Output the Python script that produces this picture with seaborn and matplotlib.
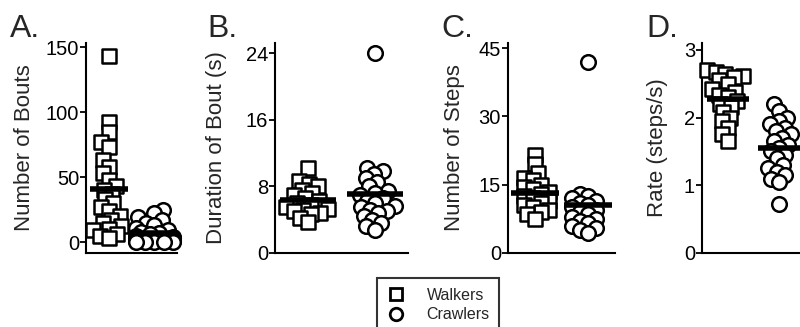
import warnings
import numpy as np
import pandas as pd
import matplotlib
matplotlib.use("Agg")
import matplotlib.pyplot as plt
from matplotlib.lines import Line2D
from matplotlib.collections import PathCollection
import seaborn as sns

warnings.filterwarnings("ignore")

groups = ["Walkers", "Crawlers"]

# A. number of bouts
bouts_walkers = [143, 92, 85, 77, 73, 63, 58, 53, 48, 43, 40, 37, 33, 30, 27, 24, 20, 17, 15,
                 12, 10, 9, 6, 5, 3]
bouts_crawlers = [25, 22, 19, 17, 15, 13, 11, 9, 8, 7, 6, 5, 4, 3, 3, 2, 2, 1, 1, 0, 0, 0, 0, 0]

# B. duration of bout (s)
dur_walkers = [10.2, 8.6, 8.3, 8.0, 7.6, 7.2, 7.0, 6.6, 6.3, 6.0, 5.8, 5.5, 5.3, 5.2, 5.0, 4.8, 4.7, 4.2, 3.7]
dur_crawlers = [24.0, 10.2, 9.8, 9.5, 9.0, 8.5, 8.0, 7.5, 7.2, 7.0, 6.6, 6.3, 6.0, 5.6, 5.5,
                5.2, 5.0, 4.8, 4.4, 4.0, 3.6, 3.2, 2.8]

# C. number of steps
steps_walkers = [21.5, 19.5, 17.5, 16.5, 16, 15, 14.5, 14, 13.5, 13, 12.5, 12, 11.5, 11, 10.5, 10, 9.5, 9, 8.5, 7.5]
steps_crawlers = [42, 13, 12.5, 12, 11.5, 11, 10.5, 10, 9.5, 9, 8.5, 8, 7.5, 7, 6.5, 6, 5.5, 5, 4.5]

# D. rate (steps/s)
rate_walkers = [2.7, 2.68, 2.65, 2.62, 2.6, 2.55, 2.5, 2.42, 2.38, 2.33, 2.3, 2.25, 2.2, 2.15,
                2.08, 2.0, 1.95, 1.85, 1.75, 1.65]
rate_crawlers = [2.2, 2.1, 2.0, 1.95, 1.9, 1.85, 1.8, 1.75, 1.7, 1.65, 1.6, 1.55, 1.5, 1.45,
                 1.4, 1.3, 1.25, 1.2, 1.15, 1.1, 1.05, 0.72]

panels = [
    ("A.", "Number of Bouts", bouts_walkers, bouts_crawlers, [0, 50, 100, 150]),
    ("B.", "Duration of Bout (s)", dur_walkers, dur_crawlers, [0, 8, 16, 24]),
    ("C.", "Number of Steps", steps_walkers, steps_crawlers, [0, 15, 30, 45]),
    ("D.", "Rate (steps/s)", rate_walkers, rate_crawlers, [0, 1, 2, 3]),
]

sns.set_style("ticks")
plt.rcParams["font.family"] = ["Liberation Sans", "DejaVu Sans"]

fig = plt.figure(figsize=(8, 3.27), dpi=100)

# axes boxes [left, bottom, width, height] in figure fraction
boxes = [
    [0.1075, 0.2263, 0.114, 0.642],
    [0.34375, 0.2263, 0.166, 0.642],
    [0.635, 0.2263, 0.134, 0.642],
    [0.8775, 0.2263, 0.129, 0.642],
]
ylims = [(-8.46, 153.1), (0, 25.2), (0, 46.1), (0, 3.1)]
label_x = [-0.56, -0.36, -0.40, -0.33]
letter_x = [10, 207, 441, 646]
mean_len = [27, 41, 34, 30]

axes = []
for i, (letter, ylabel, walk, crawl, ticks) in enumerate(panels):
    ax = fig.add_axes(boxes[i])
    axes.append(ax)
    df = pd.DataFrame({
        "group": ["Walkers"] * len(walk) + ["Crawlers"] * len(crawl),
        "value": walk + crawl,
    })
    # swarm laid out with small markers, drawn bigger afterwards (overlapping, prism style)
    sns.swarmplot(data=df[df.group == "Walkers"], x="group", y="value", order=groups,
                  marker="s", size=4.5, color="white", edgecolor="black", linewidth=1.8,
                  ax=ax)
    sns.swarmplot(data=df[df.group == "Crawlers"], x="group", y="value", order=groups,
                  marker="o", size=4.5, color="white", edgecolor="black", linewidth=1.8,
                  ax=ax)
    sns.pointplot(data=df, x="group", y="value", order=groups, estimator="mean",
                  errorbar=None, color="black", markers="_", linestyle="none",
                  markersize=mean_len[i], markeredgewidth=4, ax=ax)
    for ln in ax.lines:
        ln.set_clip_on(False)
        ln.set_zorder(5)

    ax.set_xlim(-0.5, 1.5)
    ax.set_ylim(*ylims[i])
    ax.set_yticks(ticks)
    ax.set_xticks([])
    ax.set_xlabel("")
    ax.set_ylabel(ylabel, fontsize=16)
    ax.yaxis.set_label_coords(label_x[i], 0.5)
    ax.tick_params(axis="y", labelsize=14.5, length=4, width=1.3, pad=1, colors="black")
    for side in ["top", "right"]:
        ax.spines[side].set_visible(False)
    for side in ["left", "bottom"]:
        ax.spines[side].set_linewidth(1.5)
        ax.spines[side].set_color("black")
    ax.patch.set_alpha(0)

    fig.text(letter_x[i] / 800, 1 - 37 / 327, letter, fontsize=23, va="baseline", ha="left")

# fix swarm positions, then enlarge the markers
fig.canvas.draw()
for ax in axes:
    for c in ax.collections:
        if isinstance(c, PathCollection):
            if "draw" in c.__dict__:
                del c.draw
            c.set_sizes([10.5 ** 2])
            c.set_clip_on(False)

handles = [
    Line2D([], [], marker="s", color="black", markerfacecolor="white", markersize=9,
           markeredgewidth=2, linestyle="none"),
    Line2D([], [], marker="o", color="black", markerfacecolor="white", markersize=9,
           markeredgewidth=2, linestyle="none"),
]
leg = fig.legend(handles, groups, loc="upper left", bbox_to_anchor=(377 / 800, 1 - 278 / 327),
                 frameon=True, fancybox=False, fontsize=11.5, handletextpad=1.3,
                 borderpad=0.6, labelspacing=0.3, handlelength=1.2, borderaxespad=0)
leg.get_frame().set_edgecolor("black")
leg.get_frame().set_linewidth(1.5)

fig.savefig("out.png", dpi=100)
